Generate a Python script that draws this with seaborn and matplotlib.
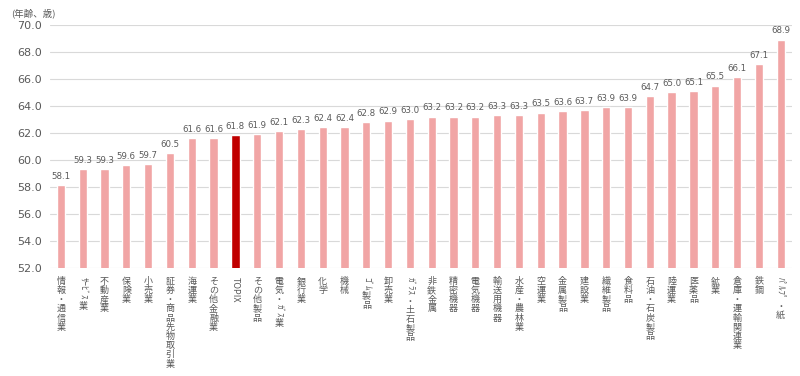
import matplotlib
matplotlib.use("Agg")
import matplotlib.pyplot as plt
import matplotlib.transforms as mtransforms
import seaborn as sns
import pandas as pd

# 業種別 平均年齢 (TOPIX含む)
industries = [
    "情報・通信業", "ｻｰﾋﾞｽ業", "不動産業", "保険業", "小売業",
    "証券・商品先物取引業", "海運業", "その他金融業", "TOPIX", "その他製品",
    "電気・ｶﾞｽ業", "銀行業", "化学", "機械", "ｺﾞﾑ製品",
    "卸売業", "ｶﾞﾗｽ・土石製品", "非鉄金属", "精密機器", "電気機器",
    "輸送用機器", "水産・農林業", "空運業", "金属製品", "建設業",
    "繊維製品", "食料品", "石油・石炭製品", "陸運業", "医薬品",
    "鉱業", "倉庫・運輸関連業", "鉄鋼", "ﾊﾟﾙﾌﾟ・紙",
]
ages = [
    58.1, 59.3, 59.3, 59.6, 59.7,
    60.5, 61.6, 61.6, 61.8, 61.9,
    62.1, 62.3, 62.4, 62.4, 62.8,
    62.9, 63.0, 63.2, 63.2, 63.2,
    63.3, 63.3, 63.5, 63.6, 63.7,
    63.9, 63.9, 64.7, 65.0, 65.1,
    65.5, 66.1, 67.1, 68.9,
]
highlight = "TOPIX"
y_ticks = [52.0, 54.0, 56.0, 58.0, 60.0, 62.0, 64.0, 66.0, 68.0, 70.0]

bar_color = "#F1A5A5"
top_color = "#C00000"
text_gray = "#595959"

sns.set_theme(style="white")
plt.rcParams["font.family"] = ["DejaVu Sans"]
jp_font = ["Noto Sans CJK JP", "DejaVu Sans"]

df = pd.DataFrame({"industry": industries, "age": ages})
palette = {name: (top_color if name == highlight else bar_color) for name in industries}

fig = plt.figure(figsize=(8.0, 3.76), dpi=100)
ax = fig.add_axes([0.0625, 0.288, 0.927, 0.646])

sns.barplot(data=df, x="industry", y="age", hue="industry", palette=palette,
            legend=False, width=0.38, saturation=1, ax=ax)

ax.set_ylim(52, 70)
ax.set_yticks(y_ticks)
ax.set_yticklabels([f"{v:.1f}" for v in y_ticks], fontsize=8, color=text_gray)
ax.set_xlim(-0.5, len(industries) - 0.5)
ax.yaxis.grid(True, color="#D9D9D9", linewidth=0.8)
ax.set_axisbelow(True)
for s in ax.spines.values():
    s.set_visible(False)
ax.tick_params(axis="both", length=0)
ax.tick_params(axis="y", pad=6)
ax.set_xticks(range(len(industries)))
ax.set_xticklabels([])
ax.set_xlabel("")
ax.set_ylabel("")

for cont in ax.containers:
    ax.bar_label(cont, fmt="%.1f", padding=3, fontsize=6.2, color=text_gray)


# Excel風の縦書きラベル: 全角は立てて積む, 半角は90度回転
def is_half(ch):
    return ord(ch) < 0x80 or 0xFF61 <= ord(ch) <= 0xFF9F


def split_runs(label):
    runs = []
    for ch in label:
        if is_half(ch) and runs and runs[-1][0] == "half":
            runs[-1][1] += ch
        elif is_half(ch):
            runs.append(["half", ch])
        else:
            runs.append(["full", ch])
    return runs


fs = 6.5
trans = mtransforms.blended_transform_factory(ax.transData, ax.transAxes)
for i, label in enumerate(industries):
    cursor = 6.5
    for kind, txt in split_runs(label):
        if kind == "full":
            ax.annotate(txt, xy=(i, 0), xycoords=trans, xytext=(0, -cursor),
                        textcoords="offset points", ha="center", va="top",
                        fontsize=fs, color=text_gray, family=jp_font,
                        annotation_clip=False)
            cursor += fs * 1.02
        else:
            ax.annotate(txt, xy=(i, 0), xycoords=trans, xytext=(0, -cursor),
                        textcoords="offset points", ha="center", va="top",
                        rotation=-90, fontsize=fs, color=text_gray, family=jp_font,
                        annotation_clip=False)
            cursor += fs * 0.55 * len(txt)

fig.text(0.014, 0.965, "(年齢、歳)", fontsize=6.8, color=text_gray,
         family=jp_font, ha="left", va="center")

fig.savefig("out.png", dpi=100)
